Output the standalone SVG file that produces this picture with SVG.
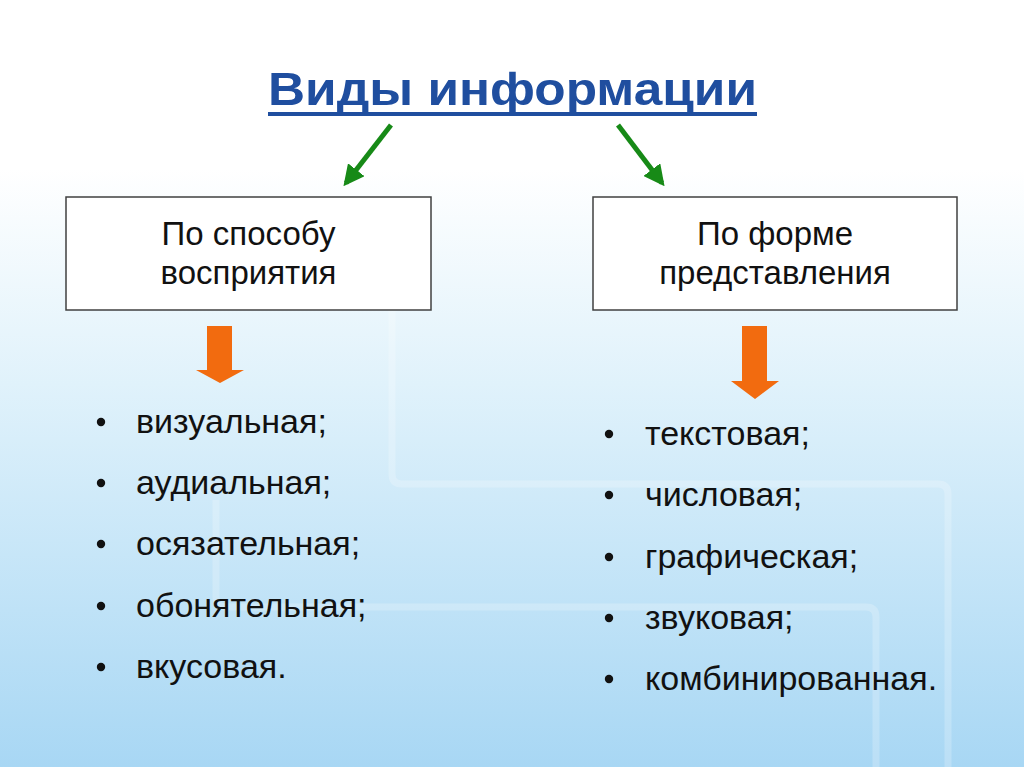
<svg xmlns="http://www.w3.org/2000/svg" width="1024" height="767" viewBox="0 0 1024 767">
  <defs>
    <linearGradient id="bg" x1="0" y1="0" x2="0" y2="1">
      <stop offset="0" stop-color="#ffffff"/>
      <stop offset="0.22" stop-color="#ffffff"/>
      <stop offset="0.5" stop-color="#e0f2fb"/>
      <stop offset="1" stop-color="#a8d7f4"/>
    </linearGradient>
    <marker id="green" viewBox="0 0 10 10" refX="8" refY="5" markerWidth="4.2" markerHeight="4.2" orient="auto" markerUnits="strokeWidth">
      <path d="M0,0 L10,5 L0,10 Z" fill="#178a17"/>
    </marker>
    <style>
      .box { fill: #ffffff; stroke: #404040; stroke-width: 1.5; }
      .boxt { font-family: "Liberation Sans", Arial, sans-serif; font-size: 33px; fill: #111111; text-anchor: middle; }
      .item { font-family: "Liberation Sans", Arial, sans-serif; font-size: 34px; fill: #111111; }
      .bul { fill: #111111; }
      .garrow { stroke: #178a17; stroke-width: 5; fill: none; marker-end: url(#green); }
      .oarrow { fill: #f26b0f; }
      .deco { fill: none; stroke: #ffffff; stroke-opacity: 0.22; stroke-width: 7; }
    </style>
  </defs>
  <rect x="0" y="0" width="1024" height="767" fill="url(#bg)"/>
  <g id="decor">
    <path class="deco" d="M392,300 V474 Q392,484 402,484 H938 Q948,484 948,494 V767"/>
    <path class="deco" d="M216,500 V597 Q216,607 226,607 H866 Q876,607 876,617 V767"/>
  </g>

  <g id="title">
    <text x="268" y="105" font-family="Liberation Sans, Arial, sans-serif" font-weight="bold" font-size="46" fill="#1f4e9f" textLength="489" lengthAdjust="spacingAndGlyphs">Виды информации</text>
    <rect x="268" y="112" width="489" height="4" fill="#1f4e9f"/>
  </g>

  <g id="connectors">
    <line class="garrow" x1="391" y1="125" x2="346" y2="183"/>
    <line class="garrow" x1="618" y1="125" x2="662" y2="183"/>
    <path class="oarrow" d="M207,326 H232 V370 H244 L220,383 L196,370 H207 Z"/>
    <path class="oarrow" d="M742,326 H767 V381 H779 L755,399 L731,381 H742 Z"/>
  </g>

  <g id="node-perception">
    <rect class="box" x="66" y="197" width="365" height="113"/>
    <text class="boxt" x="248.5" y="245">По способу</text>
    <text class="boxt" x="248.5" y="284">восприятия</text>
  </g>

  <g id="node-form">
    <rect class="box" x="593" y="197" width="364" height="113"/>
    <text class="boxt" x="775" y="245">По форме</text>
    <text class="boxt" x="775" y="284">представления</text>
  </g>

  <g id="list-perception">
    <circle class="bul" cx="101" cy="422" r="4.2"/>
    <text class="item" x="136" y="433">визуальная;</text>
    <circle class="bul" cx="101" cy="483" r="4.2"/>
    <text class="item" x="136" y="494">аудиальная;</text>
    <circle class="bul" cx="101" cy="544" r="4.2"/>
    <text class="item" x="136" y="555">осязательная;</text>
    <circle class="bul" cx="101" cy="606" r="4.2"/>
    <text class="item" x="136" y="617">обонятельная;</text>
    <circle class="bul" cx="101" cy="667" r="4.2"/>
    <text class="item" x="136" y="678">вкусовая.</text>
  </g>

  <g id="list-form">
    <circle class="bul" cx="609" cy="434" r="4.2"/>
    <text class="item" x="645" y="445">текстовая;</text>
    <circle class="bul" cx="609" cy="495" r="4.2"/>
    <text class="item" x="645" y="506">числовая;</text>
    <circle class="bul" cx="609" cy="557" r="4.2"/>
    <text class="item" x="645" y="568">графическая;</text>
    <circle class="bul" cx="609" cy="618" r="4.2"/>
    <text class="item" x="645" y="629">звуковая;</text>
    <circle class="bul" cx="609" cy="679" r="4.2"/>
    <text class="item" x="645" y="690">комбинированная.</text>
  </g>
</svg>
